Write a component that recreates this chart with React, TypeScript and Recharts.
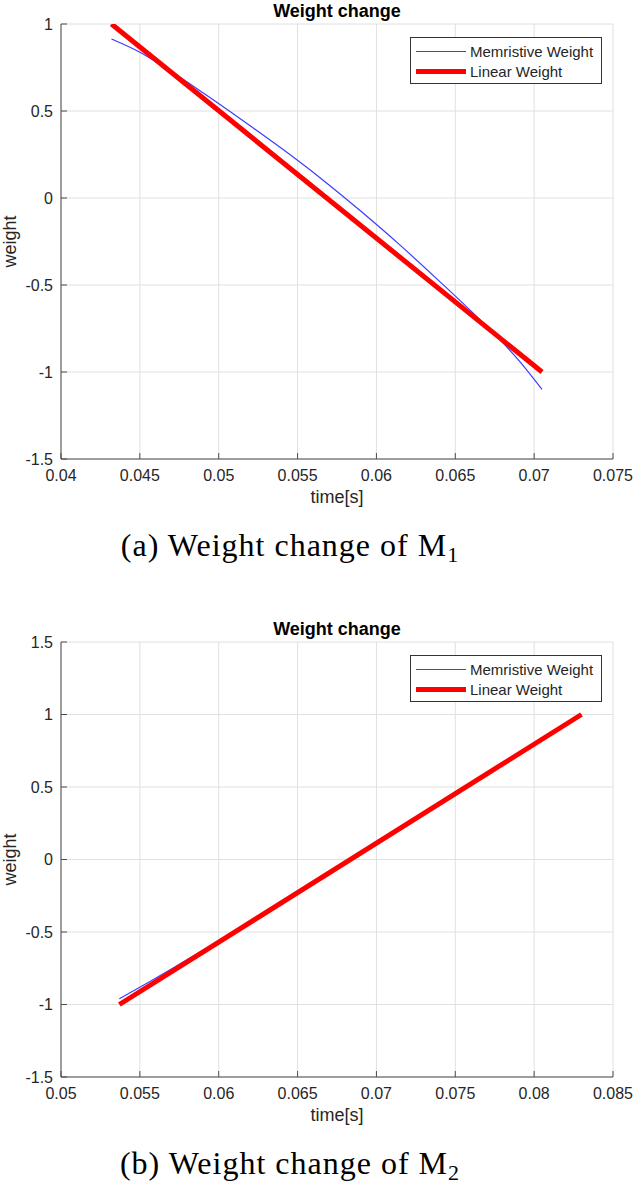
import { LineChart, Line, XAxis, YAxis, CartesianGrid } from "recharts";

// panel (a): weight of M1
const xTicksA = [0.04, 0.045, 0.05, 0.055, 0.06, 0.065, 0.07, 0.075];
const yTicksA = [-1.5, -1, -0.5, 0, 0.5, 1];
const memTimeA = [0.0432, 0.045, 0.0467, 0.049, 0.0515, 0.054, 0.0565, 0.059, 0.0615, 0.064, 0.066, 0.0673, 0.069, 0.0705];
const memWeightA = [0.914, 0.838, 0.744, 0.605, 0.447, 0.284, 0.111, -0.075, -0.271, -0.479, -0.65, -0.766, -0.93, -1.1];
const linTimeA = [0.0432, 0.0705];
const linWeightA = [1, -1];

// panel (b): weight of M2
const xTicksB = [0.05, 0.055, 0.06, 0.065, 0.07, 0.075, 0.08, 0.085];
const yTicksB = [-1.5, -1, -0.5, 0, 0.5, 1, 1.5];
const memTimeB = [0.0537, 0.0555, 0.057, 0.06, 0.065, 0.07, 0.075, 0.08, 0.083];
const memWeightB = [-0.96, -0.85, -0.755, -0.56, -0.226, 0.113, 0.454, 0.795, 1.0];
const linTimeB = [0.0537, 0.083];
const linWeightB = [-1, 1];

const FONT = "'Liberation Sans', Arial, sans-serif";
const AXIS = "#4d4d4d";
const TEXT = "#262626";

const pairs = (ts: number[], ws: number[]) => ts.map((t, i) => ({ t, w: ws[i] }));

const WeightLabel = (props: any) => {
  const vb = props.viewBox;
  const cx = 10;
  const cy = vb.y + vb.height / 2;
  return (
    <text x={cx} y={cy} transform={`rotate(-90 ${cx} ${cy})`} textAnchor="middle" dominantBaseline="central"
      fontSize={18} fill={TEXT}>
      weight
    </text>
  );
};

function Panel({ top, xTicks, yTicks, mem, lin, tag, sub }: any) {
  const xd = [xTicks[0], xTicks[xTicks.length - 1]];
  const yd = [yTicks[0], yTicks[yTicks.length - 1]];
  return (
    <div style={{ position: "absolute", left: 0, top, width: 637, height: 580, fontFamily: FONT }}>
      <div style={{ position: "absolute", left: 61, top: 0, width: 552, textAlign: "center", fontSize: 18,
        fontWeight: "bold", lineHeight: "22px", color: "#000" }}>
        Weight change
      </div>
      <LineChart width={637} height={509} margin={{ top: 24, right: 24, left: 0, bottom: 0 }}>
        <CartesianGrid stroke="#e0e0e0" />
        <XAxis type="number" dataKey="t" domain={xd} ticks={xTicks} interval={0} allowDataOverflow
          height={50} tickSize={-6} tickMargin={17} axisLine={{ stroke: AXIS }} tickLine={{ stroke: AXIS }}
          tick={{ fontSize: 16, fill: TEXT }}
          label={{ value: "time[s]", position: "insideBottom", offset: 6, fontSize: 18, fill: TEXT }} />
        <XAxis xAxisId="top" orientation="top" type="number" dataKey="t" domain={xd} ticks={xTicks} interval={0}
          allowDataOverflow height={0} tick={false} tickSize={-6} axisLine={{ stroke: AXIS }} tickLine={{ stroke: AXIS }} />
        <YAxis type="number" domain={yd} ticks={yTicks} interval={0} allowDataOverflow width={61}
          tickSize={-6} tickMargin={14} axisLine={{ stroke: AXIS }} tickLine={{ stroke: AXIS }}
          tick={{ fontSize: 16, fill: TEXT }} label={<WeightLabel />} />
        <YAxis yAxisId="right" orientation="right" type="number" domain={yd} ticks={yTicks} interval={0}
          allowDataOverflow width={0} tick={false} tickSize={-6} axisLine={{ stroke: AXIS }} tickLine={{ stroke: AXIS }} />
        <Line data={mem} dataKey="w" type="monotone" stroke="#3c3cff" strokeWidth={1.2} dot={false}
          isAnimationActive={false} />
        <Line data={lin} dataKey="w" type="linear" stroke="#ff0000" strokeWidth={5} dot={false}
          isAnimationActive={false} />
      </LineChart>

      <div style={{ position: "absolute", left: 410, top: 37, width: 190, height: 45, border: "1px solid #333",
        background: "#fff", fontSize: 15, color: TEXT }}>
        <div style={{ position: "absolute", left: 5, top: 13, width: 50, height: 1, background: "#3c3cff" }} />
        <div style={{ position: "absolute", left: 59, top: 4, lineHeight: "20px" }}>Memristive Weight</div>
        <div style={{ position: "absolute", left: 5, top: 31, width: 50, height: 5, background: "#ff0000" }} />
        <div style={{ position: "absolute", left: 59, top: 24, lineHeight: "20px" }}>Linear Weight</div>
      </div>

      <div style={{ position: "absolute", left: 0, top: 527, width: 580, textAlign: "center",
        fontFamily: "'Liberation Serif', 'Times New Roman', serif", fontSize: 32, lineHeight: "36px",
        letterSpacing: 1, color: "#000" }}>
        ({tag}) Weight change of M<span style={{ fontSize: 22, verticalAlign: -6 }}>{sub}</span>
      </div>
    </div>
  );
}

export default function App() {
  return (
    <div style={{ position: "relative", width: 637, height: 1192, background: "#fff" }}>
      <style>{"body{margin:0}"}</style>
      <Panel top={0} xTicks={xTicksA} yTicks={yTicksA} mem={pairs(memTimeA, memWeightA)}
        lin={pairs(linTimeA, linWeightA)} tag="a" sub="1" />
      <Panel top={618} xTicks={xTicksB} yTicks={yTicksB} mem={pairs(memTimeB, memWeightB)}
        lin={pairs(linTimeB, linWeightB)} tag="b" sub="2" />
    </div>
  );
}
